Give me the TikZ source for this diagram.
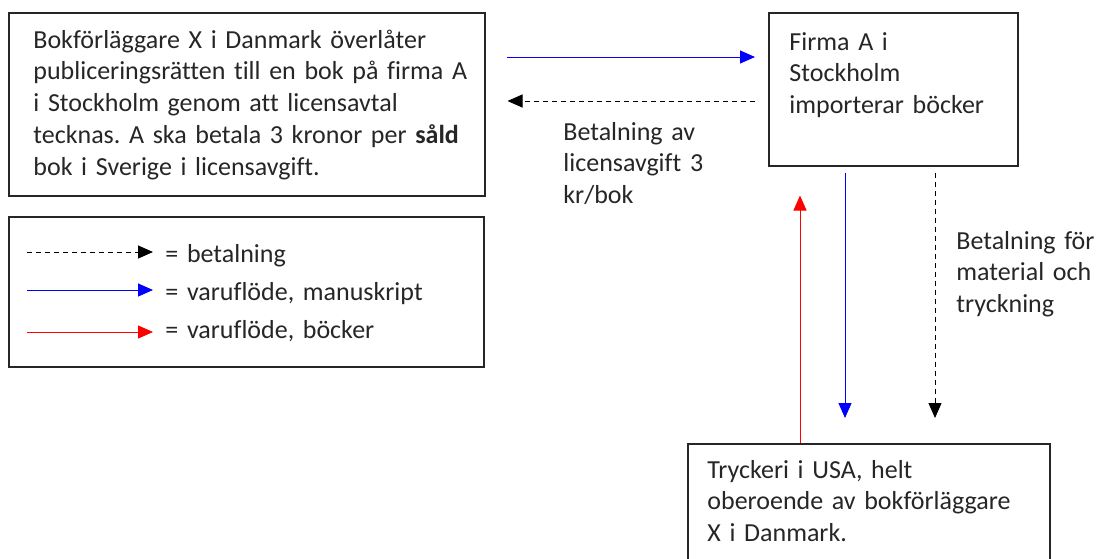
\documentclass[tikz,border=0pt]{standalone}
\usepackage{fontspec}
\setmainfont{Carlito}[Ligatures=NoCommon]
\usepackage{tikz}
\usetikzlibrary{arrows.meta}
\frenchspacing
\definecolor{boxColor}{RGB}{38,38,38}
\tikzstyle{diagram} = [x = .5pt, y = -.5pt]
\tikzstyle{boxStyle} = [draw=boxColor, line width=.75pt, anchor=north west, inner sep=0pt]
\tikzstyle{boxText} = [anchor=base west, text width=220pt, align=left, inner sep=0pt, text=boxColor, font=\fontsize{13pt}{15.95pt}\selectfont]
\tikzstyle{flowTip} = [-{Triangle[length=7.5pt, width=6.5pt]}, line width=.5pt]
\tikzstyle{payArrow} = [flowTip, black, dash pattern=on 2.5pt off 2pt]
\tikzstyle{manuArrow} = [flowTip, blue]
\tikzstyle{bookArrow} = [flowTip, red]
\newcommand{\keyArrow}[4]{
  \coordinate (#1Start) at (27,#3);
  \node[boxText] (#1) at (165,#4) {= #2};
  \draw[#1Arrow, shorten >=6pt] (#1Start) -- (#1Start -| #1.west);
}

\begin{document}
\begin{tikzpicture}[diagram]
  \useasboundingbox (0,0) rectangle (1103,558);
  % boxes
  \node[boxStyle, minimum width=238pt, minimum height=91.5pt] (forlag) at (8,12) {};
  \node[boxStyle, minimum width=237.5pt, minimum height=75pt] (legend) at (8,216) {};
  \node[boxStyle, minimum width=124.5pt, minimum height=76.5pt] (firma) at (768,12) {};
  \node[boxStyle, minimum width=181pt, minimum height=80pt] (tryckeri) at (687,443) {};
  % texts
  \node[boxText] (forlagText) at (33,48) {Bokförläggare X i Danmark överlåter\\ publiceringsrätten till en bok på firma A\\ i Stockholm genom att licensavtal\\ tecknas. A ska betala 3 kronor per \textbf{såld}\\ bok i Sverige i licensavgift.};
  \node[boxText] (firmaText) at (789,50) {Firma A i\\ Stockholm\\ importerar böcker};
  \node[boxText] (tryckeriText) at (707,478) {Tryckeri i USA, helt\\ oberoende av bokförläggare\\ X i Danmark.};
  \node[boxText] (licensLabel) at (563,140) {Betalning av\\ licensavgift 3\\ kr/bok};
  \node[boxText] (materialLabel) at (956,249) {Betalning för\\ material och\\ tryckning};
  % legend
  \keyArrow{pay}{betalning}{252}{262}
  \keyArrow{manu}{varuflöde, manuskript}{290}{300}
  \keyArrow{book}{varuflöde, böcker}{332}{338}
  % flows
  \draw[manuArrow, shorten <=10.5pt, shorten >=6.5pt] (forlag.east |- 0,57) -- (firma.west |- 0,57);
  \draw[payArrow, shorten <=6.5pt, shorten >=11pt] (firma.west |- 0,101) -- (forlag.east |- 0,101);
  \draw[bookArrow, shorten >=14.5pt] (tryckeri.north -| 800,0) -- (firma.south -| 800,0);
  \draw[manuArrow, shorten <=3pt, shorten >=12.5pt] (firma.south -| 845,0) -- (tryckeri.north -| 845,0);
  \draw[payArrow, shorten <=3pt, shorten >=12.5pt] (firma.south -| 935,0) -- (tryckeri.north -| 935,0);
\end{tikzpicture}
\end{document}
